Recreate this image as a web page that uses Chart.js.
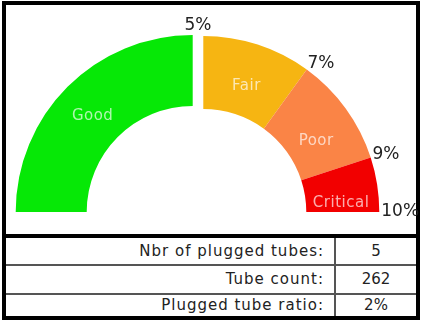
<!DOCTYPE html>
<html>
<head>
<meta charset="utf-8">
<script src="https://cdn.jsdelivr.net/npm/chart.js"></script>
<style>
  body { margin: 0; background: #fff; font-family: "DejaVu Sans", sans-serif; color: #222; }
  #wrap { position: relative; width: 426px; height: 323px; overflow: hidden; }
  #box { position: absolute; left: 2px; top: 1px; width: 410px; height: 311px; border: 4px solid #000; }
  .line { position: absolute; background: #000; }
  .thin { background: #555; }
  canvas { position: absolute; left: 0; top: 0; }
  .lbl, .val { position: absolute; font-size: 15px; white-space: nowrap; }
  .lbl { right: 102px; text-align: right; letter-spacing: 1px; }
  .val { left: 336px; width: 80px; text-align: center; }
</style>
</head>
<body>
<div id="wrap">
  <div id="box"></div>
  <div class="line" style="left:2px;top:234px;width:418px;height:4px;"></div>
  <div class="line thin" style="left:6px;top:264px;width:410px;height:2px;"></div>
  <div class="line thin" style="left:6px;top:293px;width:410px;height:2px;"></div>
  <div class="line thin" style="left:334px;top:238px;width:2px;height:78px;"></div>
  <div id="rows"></div>
  <canvas id="goodCanvas" width="426" height="240"></canvas>
  <canvas id="restCanvas" width="426" height="240"></canvas>
</div>
<script>
var segNames = ['Good', 'Fair', 'Poor', 'Critical'];
var segValues = [5, 2, 2, 1];
var thresholdLabels = ['5%', '7%', '9%', '10%'];
var tableLabels = ['Nbr of plugged tubes:', 'Tube count:', 'Plugged tube ratio:'];
var tableValues = ['5', '262', '2%'];

var segColors = ['#06e806', '#f6b512', '#fa8446', '#f20000'];
var GAP = 10.6; // white gap between Good and Fair

// table rows
var rowTops = [238, 266, 295];
var rowHeights = [26, 27, 21];
var rows = document.getElementById('rows');
for (var i = 0; i < tableLabels.length; i++) {
    var l = document.createElement('div');
    l.className = 'lbl';
    l.style.top = rowTops[i] + 'px';
    l.style.lineHeight = rowHeights[i] + 'px';
    l.textContent = tableLabels[i];
    rows.appendChild(l);
    var v = document.createElement('div');
    v.className = 'val';
    v.style.top = rowTops[i] + 'px';
    v.style.lineHeight = rowHeights[i] + 'px';
    v.textContent = tableValues[i];
    rows.appendChild(v);
}

var gaugeText = {
    id: 'gaugeText',
    afterDatasetsDraw: function (chart, args, opts) {
        var ctx = chart.ctx;
        var arcs = chart.getDatasetMeta(0).data;
        ctx.save();
        opts.show.forEach(function (i) {
            var arc = arcs[i];
            var p = arc.tooltipPosition();
            var phi = (arc.startAngle + arc.endAngle) / 2 + Math.PI / 2;
            ctx.font = '15px "DejaVu Sans"';
            ctx.letterSpacing = '0.5px';
            ctx.fillStyle = 'rgba(255,255,255,0.68)';
            ctx.textAlign = 'center';
            ctx.textBaseline = 'middle';
            // names sit a little lower than the arc middle, more so on the right side
            ctx.fillText(segNames[i], p.x, p.y + 4 + Math.max(0, Math.sin(phi)) * 9);

            // threshold label at the end of the segment
            var a = arc.endAngle;
            var e = a + Math.PI / 2;
            var r = arc.outerRadius + 3;
            var px = arc.x + Math.cos(a) * r;
            var py = arc.y + Math.sin(a) * r;
            ctx.font = '17px "DejaVu Sans"';
            ctx.letterSpacing = '0px';
            ctx.fillStyle = '#222';
            ctx.textBaseline = 'alphabetic';
            if (Math.abs(e) < 0.01) {
                ctx.textAlign = 'center';
                ctx.fillText(thresholdLabels[i], px + GAP / 2, py - 2);
            } else {
                ctx.textAlign = 'left';
                ctx.fillText(thresholdLabels[i], px - 1, py + 4 - 4 * Math.cos(e));
            }
        });
        ctx.restore();
    }
};

function makeGauge(id, show, radius, inner, pad) {
    var colors = segColors.map(function (c, i) {
        return show.indexOf(i) >= 0 ? c : 'rgba(0,0,0,0)';
    });
    return new Chart(document.getElementById(id), {
        type: 'doughnut',
        data: {
            labels: segNames,
            datasets: [{
                data: segValues,
                backgroundColor: colors,
                borderWidth: 0
            }]
        },
        options: {
            responsive: false,
            animation: false,
            events: [],
            rotation: -90,
            circumference: 180,
            radius: radius,
            cutout: (inner / radius * 100) + '%',
            layout: { padding: pad },
            plugins: {
                legend: { display: false },
                tooltip: { enabled: false },
                gaugeText: { show: show }
            }
        },
        plugins: [gaugeText]
    });
}

// centre x of the gauge is 198, the two halves sit GAP apart
makeGauge('goodCanvas', [0], 177, 106, { left: 0, right: 426 - 2 * (198 - GAP / 2), top: 7, bottom: 0 });
makeGauge('restCanvas', [1, 2, 3], 176, 103, { left: 0, right: 426 - 2 * (198 + GAP / 2), top: 8, bottom: 0 });
</script>
</body>
</html>
